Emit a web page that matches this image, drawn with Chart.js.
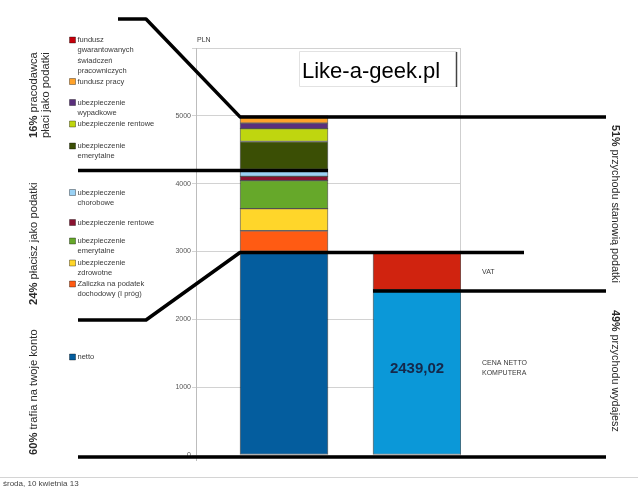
<!DOCTYPE html>
<html lang="pl">
<head>
<meta charset="UTF-8">
<title>Podatki – pensja i komputer</title>
<script src="https://cdn.jsdelivr.net/npm/chart.js"></script>
<style>
  html, body { margin: 0; padding: 0; background: #fff; }
  #wrap { width: 638px; height: 491px; }
</style>
</head>
<body>
<div id="wrap"><canvas id="chart" width="638" height="491"></canvas></div>
<script>
// słupek 1: całkowity koszt pracodawcy, od dołu do góry
const salaryLegend = [
  ['netto'],
  ['Zaliczka na podatek', 'dochodowy (I próg)'],
  ['ubezpieczenie', 'zdrowotne'],
  ['ubezpieczenie', 'emerytalne'],
  ['ubezpieczenie rentowe'],
  ['ubezpieczenie', 'chorobowe'],
  ['ubezpieczenie', 'emerytalne'],
  ['ubezpieczenie rentowe'],
  ['ubezpieczenie', 'wypadkowe'],
  ['fundusz pracy'],
  ['fundusz', 'gwarantowanych', 'świadczeń', 'pracowniczych']
];
const salaryValues = [3000, 306, 326.95, 410.90, 63.15, 103.15, 410.90, 189.45, 81.25, 103.15, 4.21];
const salaryColors = ['#045d9e', '#ff5b13', '#ffd62a', '#66a82a', '#8a1230', '#9ad2f5',
                      '#3b4f05', '#bfd60f', '#5a2f7c', '#ffa22a', '#c5000b'];

// słupek 2: cena komputera
const computerLabels = ['CENA NETTO KOMPUTERA', 'VAT'];
const computerValues = [2439.02, 560.98];
const computerColors = ['#0b98d8', '#d0230f'];

const barX = [1, 2];
const yTicks = [0, 1000, 2000, 3000, 4000, 5000];

const sum = arr => arr.reduce((a, b) => a + b, 0);

// tekst z pogrubionym początkiem, np. "24%" + " płacisz..."
function mixedText(ctx, x, y, parts, size) {
  let cx = x;
  parts.forEach(([txt, bold]) => {
    ctx.font = (bold ? 'bold ' : '') + size + 'px "Liberation Sans", Arial, sans-serif';
    ctx.fillText(txt, cx, y);
    cx += ctx.measureText(txt).width;
  });
}

const overlay = {
  id: 'overlay',
  beforeDatasetsDraw(chart) {
    const { ctx, chartArea: a } = chart;
    ctx.save();
    ctx.strokeStyle = '#cfcfcf';
    ctx.lineWidth = 1;
    ctx.beginPath();
    ctx.moveTo(Math.round(a.right) - 0.5, a.top);
    ctx.lineTo(Math.round(a.right) - 0.5, a.bottom);
    ctx.stroke();
    ctx.strokeStyle = '#bdbdbd';
    ctx.beginPath();
    ctx.moveTo(a.left + 0.5, a.bottom);
    ctx.lineTo(a.left + 0.5, a.bottom + 6);
    ctx.stroke();
    ctx.restore();
  },
  afterDraw(chart) {
    const { ctx, scales: { x, y } } = chart;
    const half = 44;
    const b1 = x.getPixelForValue(barX[0]);
    const b2 = x.getPixelForValue(barX[1]);
    const yTop = y.getPixelForValue(sum(salaryValues)) + 1;
    const yTax = y.getPixelForValue(sum(salaryValues.slice(0, 6))) + 1;
    const yNet = y.getPixelForValue(salaryValues[0]) + 1;
    const yVat = y.getPixelForValue(computerValues[0]) + 1.5;
    const y0 = y.getPixelForValue(0) + 2;

    ctx.save();
    // grube czarne linie
    ctx.strokeStyle = '#000';
    ctx.lineWidth = 3.5;
    ctx.lineJoin = 'round';
    const path = pts => {
      ctx.beginPath();
      pts.forEach(([px, py], i) => i ? ctx.lineTo(px, py) : ctx.moveTo(px, py));
      ctx.stroke();
    };
    path([[118, 19], [146, 19], [b1 - half, yTop], [606, yTop]]);
    path([[78, yTax], [b1 + half, yTax]]);
    path([[78, 320], [146, 320], [b1 - half, yNet], [524, yNet]]);
    path([[b2 - half, yVat], [606, yVat]]);
    path([[78, y0], [606, y0]]);

    // legenda
    ctx.textBaseline = 'middle';
    ctx.font = '7.5px "Liberation Sans", Arial, sans-serif';
    const legendY = [357, 284, 263, 241, 222.5, 192.5, 146, 124, 102.5, 81.5, 40];
    salaryLegend.forEach((lines, i) => {
      const ly = legendY[i];
      ctx.fillStyle = salaryColors[i];
      ctx.fillRect(69.5, ly - 3, 6, 6);
      ctx.strokeStyle = 'rgba(0,0,0,0.6)';
      ctx.lineWidth = 0.6;
      ctx.strokeRect(69.5, ly - 3, 6, 6);
      ctx.fillStyle = '#3a3a3a';
      lines.forEach((t, j) => ctx.fillText(t, 77.5, ly + j * 10.4));
    });

    // opisy przy słupku komputera
    ctx.font = '7px "Liberation Sans", Arial, sans-serif';
    ctx.fillStyle = '#3a3a3a';
    ctx.fillText(computerLabels[1], 482, 272);
    ctx.fillText('CENA NETTO', 482, 363);
    ctx.fillText('KOMPUTERA', 482, 373.5);
    ctx.fillText('PLN', 197, 40);

    ctx.font = 'bold 15px "Liberation Sans", Arial, sans-serif';
    ctx.fillStyle = '#15284a';
    ctx.textAlign = 'center';
    ctx.fillText(computerValues[0].toFixed(2).replace('.', ','), b2, 369);
    ctx.textAlign = 'left';

    // ramka z adresem
    ctx.fillStyle = '#fff';
    ctx.fillRect(299, 51, 158, 36);
    ctx.strokeStyle = '#e2e2e2';
    ctx.lineWidth = 1;
    ctx.strokeRect(299.5, 51.5, 157, 35);
    ctx.strokeStyle = '#444';
    ctx.lineWidth = 1.5;
    ctx.beginPath();
    ctx.moveTo(456.5, 52);
    ctx.lineTo(456.5, 87);
    ctx.stroke();
    ctx.fillStyle = '#000';
    ctx.font = '22px "Liberation Sans", Arial, sans-serif';
    ctx.textBaseline = 'alphabetic';
    ctx.fillText('Like-a-geek.pl', 302, 78);

    // pionowe napisy po lewej
    ctx.fillStyle = '#2a2a2a';
    ctx.textBaseline = 'middle';
    const rotLeft = (px, py, parts) => {
      ctx.save();
      ctx.translate(px, py);
      ctx.rotate(-Math.PI / 2);
      mixedText(ctx, 0, 0, parts, 11.2);
      ctx.restore();
    };
    rotLeft(34, 138, [['16%', true], [' pracodawca', false]]);
    rotLeft(46, 138, [['płaci jako podatki', false]]);
    rotLeft(34, 305, [['24%', true], [' płacisz jako podatki', false]]);
    rotLeft(34, 455, [['60%', true], [' trafia na twoje konto', false]]);

    // pionowe napisy po prawej
    const rotRight = (px, py, parts) => {
      ctx.save();
      ctx.translate(px, py);
      ctx.rotate(Math.PI / 2);
      mixedText(ctx, 0, 0, parts, 10.8);
      ctx.restore();
    };
    rotRight(615, 125, [['51%', true], [' przychodu stanowią podatki', false]]);
    rotRight(615, 310, [['49%', true], [' przychodu wydajesz', false]]);

    // stopka
    ctx.strokeStyle = '#d4d4d4';
    ctx.lineWidth = 1;
    ctx.beginPath();
    ctx.moveTo(0, 477.5);
    ctx.lineTo(638, 477.5);
    ctx.stroke();
    ctx.fillStyle = '#444';
    ctx.font = '8px "Liberation Sans", Arial, sans-serif';
    ctx.fillText('środa, 10 kwietnia 13', 3, 484);
    ctx.restore();
  }
};

const datasets = [
  ...salaryValues.map((v, i) => ({
    label: salaryLegend[i].join(' '),
    data: [{ x: barX[0], y: v }],
    backgroundColor: salaryColors[i]
  })),
  ...computerValues.map((v, i) => ({
    label: computerLabels[i],
    data: [{ x: barX[1], y: v }],
    backgroundColor: computerColors[i]
  }))
];

new Chart(document.getElementById('chart'), {
  type: 'bar',
  data: { datasets },
  options: {
    responsive: false,
    animation: false,
    devicePixelRatio: 1,
    layout: { padding: { left: 156, right: 177, top: 48, bottom: 36 } },
    datasets: {
      bar: { barThickness: 88, borderWidth: 1, borderColor: 'rgba(0,0,0,0.55)', borderSkipped: false }
    },
    plugins: { legend: { display: false }, tooltip: { enabled: false } },
    scales: {
      x: {
        type: 'linear',
        stacked: true,
        display: false,
        offset: false,
        min: barX[0] - 88 / 133,
        max: barX[1] + 44 / 133
      },
      y: {
        stacked: true,
        min: 0,
        max: 6000,
        afterFit: s => { s.width = 40; },
        ticks: {
          stepSize: 1000,
          padding: 1,
          color: '#555',
          font: { size: 7, family: '"Liberation Sans", Arial, sans-serif' },
          callback: v => yTicks.includes(v) ? String(v) : ''
        },
        grid: { color: '#d2d2d2', tickLength: 4 },
        border: { color: '#bdbdbd' }
      }
    }
  },
  plugins: [overlay]
});
</script>
</body>
</html>
